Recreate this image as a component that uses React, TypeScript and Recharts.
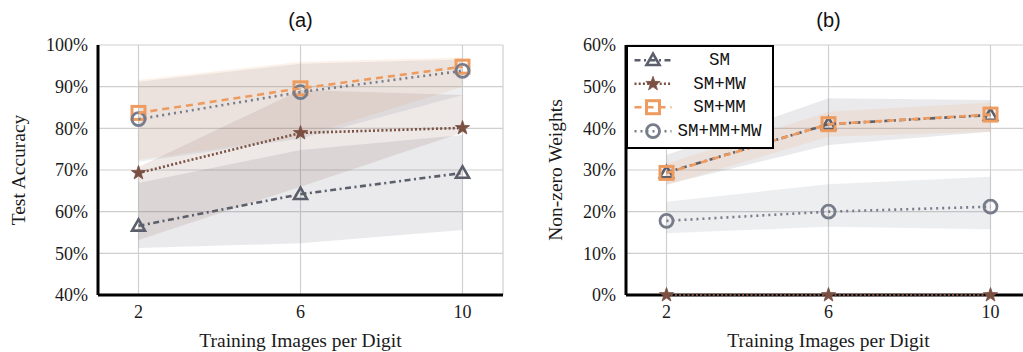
import React from 'react';
import { ComposedChart, Line, Area, XAxis, YAxis, CartesianGrid, Legend, Label } from 'recharts';

// x categories
const trainingImages = [2, 6, 10];

// (a) Test accuracy (%) : mean, lower, upper
const accSM = [56.6, 64.2, 69.3];
const accSMLo = [51.3, 52.4, 55.6];
const accSMHi = [66.9, 74.8, 78.4];
const accSMMW = [69.3, 78.9, 80.1];
const accSMMWLo = [53.2, 66.0, 79.0];
const accSMMWHi = [70.7, 89.2, 88.0];
const accSMMM = [83.7, 89.6, 94.8];
const accSMMMLo = [72.4, 78.0, 90.0];
const accSMMMHi = [91.6, 96.0, 97.0];
const accAll = [82.2, 88.7, 93.8];
const accAllLo = [72.0, 77.5, 88.0];
const accAllHi = [91.2, 95.5, 96.5];

// (b) Non-zero weights (%) : mean, lower, upper
const nzSM = [29.4, 41.0, 43.2];
const nzSMLo = [26.5, 36.0, 39.2];
const nzSMHi = [33.6, 47.2, 46.8];
const nzSMMW = [0, 0, 0];
const nzSMMM = [29.3, 41.0, 43.3];
const nzSMMMLo = [26.4, 38.0, 39.2];
const nzSMMMHi = [31.5, 44.0, 46.2];
const nzAll = [17.8, 20.0, 21.2];
const nzAllLo = [14.8, 16.4, 15.8];
const nzAllHi = [22.4, 26.6, 28.4];

const accTicks = [40, 50, 60, 70, 80, 90, 100];
const nzTicks = [0, 10, 20, 30, 40, 50, 60];
const xTicks = [2, 6, 10];
const seriesNames = ['SM', 'SM+MW', 'SM+MM', 'SM+MM+MW'];

const accData = trainingImages.map((x, i) => ({
  x,
  s0: accSM[i], b0: [accSMLo[i], accSMHi[i]],
  s1: accSMMW[i], b1: [accSMMWLo[i], accSMMWHi[i]],
  s2: accSMMM[i], b2: [accSMMMLo[i], accSMMMHi[i]],
  s3: accAll[i], b3: [accAllLo[i], accAllHi[i]],
}));

const nzData = trainingImages.map((x, i) => ({
  x,
  s0: nzSM[i], b0: [nzSMLo[i], nzSMHi[i]],
  s1: nzSMMW[i],
  s2: nzSMMM[i], b2: [nzSMMMLo[i], nzSMMMHi[i]],
  s3: nzAll[i], b3: [nzAllLo[i], nzAllHi[i]],
}));

const styles = [
  { color: '#5b5f6b', dash: '6 3.5 2 3.5', marker: 'triangle' },
  { color: '#7a5043', dash: '2 2.2', marker: 'star' },
  { color: '#ee9b60', dash: '7 5', marker: 'square' },
  { color: '#777c8b', dash: '2 4', marker: 'circle' },
];

const SERIF = '"Liberation Serif", "Times New Roman", serif';

function Marker({ type, cx, cy, color }: any) {
  if (cx == null || cy == null) return null;
  if (type === 'triangle') {
    const pts = `${cx},${cy - 6.5} ${cx - 6.5},${cy + 4.8} ${cx + 6.5},${cy + 4.8}`;
    return <polygon points={pts} fill="none" stroke={color} strokeWidth={2.6} strokeLinejoin="miter" />;
  }
  if (type === 'star') {
    const pts: string[] = [];
    for (let k = 0; k < 10; k++) {
      const r = k % 2 === 0 ? 7.5 : 3;
      const a = -Math.PI / 2 + (k * Math.PI) / 5;
      pts.push(`${cx + r * Math.cos(a)},${cy + r * Math.sin(a)}`);
    }
    return <polygon points={pts.join(' ')} fill={color} stroke={color} strokeWidth={0.8} />;
  }
  if (type === 'square') {
    return <rect x={cx - 6.5} y={cy - 6.5} width={13} height={13} fill="none" stroke={color} strokeWidth={3} />;
  }
  return <circle cx={cx} cy={cy} r={6.5} fill="none" stroke={color} strokeWidth={2.8} />;
}

function LegendBox() {
  const rowsY = [13.2, 36.8, 60.2, 84.2];
  return (
    <div style={{ width: 148, height: 104, boxSizing: 'border-box', border: '2.5px solid #000', background: '#fff' }}>
      <svg width={143} height={99} style={{ display: 'block' }}>
        {seriesNames.map((name, i) => (
          <g key={name}>
            <line x1={6.5} x2={43.5} y1={rowsY[i]} y2={rowsY[i]} stroke={styles[i].color} strokeWidth={2.6} strokeDasharray={styles[i].dash} />
            <Marker type={styles[i].marker} cx={25} cy={rowsY[i]} color={styles[i].color} />
            <text x={91.5} y={rowsY[i]} textAnchor="middle" dominantBaseline="central"
              fontFamily='"Liberation Mono", "DejaVu Sans Mono", monospace' fontSize={17.5} fill="#111">{name}</text>
          </g>
        ))}
      </svg>
    </div>
  );
}

function Panel({ data, ticks, domain, yLabel, yAxisWidth, yLabelDx, width, marginRight, withLegend, bands }: any) {
  return (
    <ComposedChart width={width} height={352} data={data}
      margin={{ top: 45, right: marginRight, bottom: 27, left: 0 }}>
      <CartesianGrid stroke="#cfcfcf" strokeWidth={1.2} />
      {bands.map((k: number) => (
        <Area key={'b' + k} type="linear" dataKey={'b' + k} stroke="none" fill={styles[k].color}
          fillOpacity={0.13} isAnimationActive={false} activeDot={false} dot={false} legendType="none" />
      ))}
      {[0, 1, 2, 3].map((k) => (
        <Line key={'s' + k} type="linear" dataKey={'s' + k} stroke={styles[k].color} strokeWidth={2.6}
          strokeDasharray={styles[k].dash} isAnimationActive={false} activeDot={false} zIndex={700}
          dot={(p: any) => <Marker key={`m${k}-${p.index}`} type={styles[k].marker} cx={p.cx} cy={p.cy} color={styles[k].color} />} />
      ))}
      <XAxis dataKey="x" type="number" domain={[1, 11]} ticks={xTicks} tickLine={false} tickSize={0} tickMargin={10}
        axisLine={{ stroke: '#000', strokeWidth: 3 }} height={30}
        tick={{ fill: '#1a1a1a', fontSize: 18, fontFamily: SERIF }}>
        <Label value="Training Images per Digit" position="bottom" offset={8}
          style={{ fontFamily: SERIF, fontSize: 19.5, fill: '#1a1a1a' }} />
      </XAxis>
      <YAxis type="number" domain={domain} ticks={ticks} tickLine={false} tickSize={0} tickMargin={10} width={yAxisWidth}
        axisLine={{ stroke: '#000', strokeWidth: 3 }} tickFormatter={(v: number) => `${v}%`}
        tick={{ fill: '#1a1a1a', fontSize: 18, fontFamily: SERIF }}>
        <Label content={(props: any) => {
          const vb = props.viewBox;
          const x = vb.x + yLabelDx;
          const y = vb.y + vb.height / 2;
          return (
            <text x={x} y={y} transform={`rotate(-90, ${x}, ${y})`} textAnchor="middle" dominantBaseline="central"
              style={{ fontFamily: SERIF, fontSize: 19.5, fill: '#1a1a1a' }}>{yLabel}</text>
          );
        }} />
      </YAxis>
      {withLegend && (
        <Legend content={() => <LegendBox />} layout="horizontal" verticalAlign="middle" align="center"
          wrapperStyle={{ left: yAxisWidth, top: 45, width: 148, height: 104 }} />
      )}
    </ComposedChart>
  );
}

export default function App() {
  const titleStyle: React.CSSProperties = {
    position: 'absolute', top: 8, height: 24, lineHeight: '24px', textAlign: 'center',
    fontFamily: '"Liberation Sans", Arial, sans-serif', fontSize: 20, color: '#111',
  };
  return (
    <div style={{ position: 'absolute', left: 0, top: 0, width: 1023, height: 352, overflow: 'hidden', background: '#fff' }}>
      <div style={{ ...titleStyle, left: 98, width: 405 }}>(a)</div>
      <div style={{ ...titleStyle, left: 626, width: 405 }}>(b)</div>
      <div style={{ position: 'absolute', left: 0, top: 0 }}>
        <Panel data={accData} ticks={accTicks} domain={[40, 100]} yLabel="Test Accuracy" yAxisWidth={98}
          yLabelDx={18} width={515} marginRight={12} withLegend={false} bands={[0, 1, 2, 3]} />
      </div>
      <div style={{ position: 'absolute', left: 520, top: 0 }}>
        <Panel data={nzData} ticks={nzTicks} domain={[0, 60]} yLabel="Non-zero Weights" yAxisWidth={106}
          yLabelDx={35} width={511} marginRight={0} withLegend={true} bands={[0, 2, 3]} />
      </div>
    </div>
  );
}
